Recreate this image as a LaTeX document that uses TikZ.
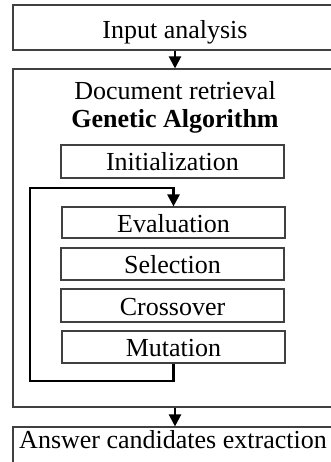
\documentclass[tikz,border=0pt]{standalone}
\usepackage{fontspec}
\setmainfont{Liberation Serif}
\usetikzlibrary{arrows.meta}
\begin{document}
\begin{tikzpicture}[x=1pt,y=-1pt,
  box/.style={draw=black!75, line width=1.1pt, rectangle, inner sep=0pt,
    font=\fontsize{26}{31}\selectfont, text height=19pt, text depth=0pt},
  lbl/.style={inner sep=0pt, font=\fontsize{26}{31}\selectfont, anchor=base},
  flow/.style={line width=2.2pt, -{Triangle[length=12pt,width=12pt]}},
  loopline/.style={line width=2.6pt, -{Triangle[length=12pt,width=12pt]}}]
\useasboundingbox (0,0) rectangle (330,462);
\fill[white] (0,0) rectangle (330,462);
% outer boxes
\node[box, minimum width=324pt, minimum height=45pt, text height=23pt] (inp) at (175,27.5) {Input analysis};
\node[box, minimum width=324pt, minimum height=338pt] (ret) at (175,238) {};
\node[box, minimum width=324pt, minimum height=50pt] (ans) at (175,452) {};
\node[lbl] (anst) at (173,448) {Answer candidates extraction};
% titles
\node[lbl] (t1) at (175,100) {Document retrieval};
\node[lbl] (t2) at (175,128) {\bfseries Genetic Algorithm};
% inner steps
\node[box, minimum width=223pt, minimum height=33pt] (ini) at (172.5,161.5) {Initialization};
\node[box, minimum width=223pt, minimum height=31pt] (eva) at (173.5,222.5) {Evaluation};
\node[box, minimum width=223pt, minimum height=32pt] (sel) at (172.5,264) {Selection};
\node[box, minimum width=223pt, minimum height=33pt] (cro) at (172.5,305.5) {Crossover};
\node[box, minimum width=223pt, minimum height=32pt] (mut) at (173.5,347) {Mutation};
% connectors
\draw[flow] (inp.south) -- (ret.north);
\draw[flow] (ret.south) -- (ans.north);
\coordinate (lp1) at (30,381);
\coordinate (lp2) at (30,188);
\draw[loopline] (mut.south) |- (lp1) -- (lp2) -| (eva.north);
\end{tikzpicture}
\end{document}
